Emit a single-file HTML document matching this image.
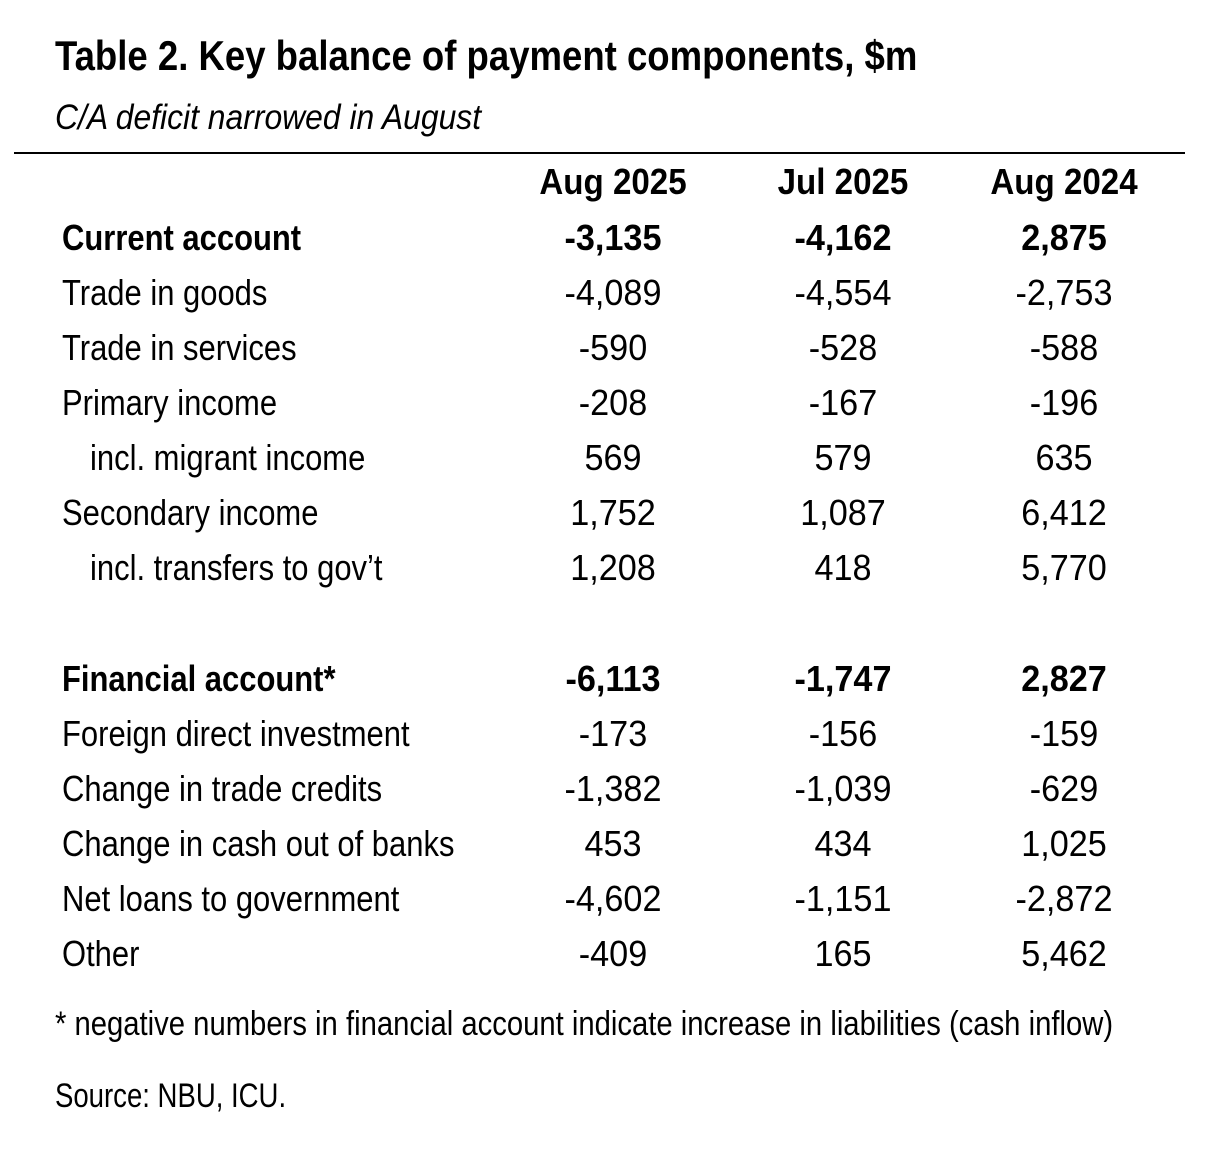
<!DOCTYPE html>
<html><head><meta charset="utf-8"><style>
body{margin:0;width:1213px;height:1153px;background:#fff;position:relative;overflow:hidden;font-family:"Liberation Sans",sans-serif;color:#000}
div{position:absolute;white-space:nowrap;line-height:1}
.l{transform:scaleX(0.86);transform-origin:0 50%}
.t{font-size:42px;font-weight:bold;left:55px;top:35px;transform:scaleX(0.87);transform-origin:0 50%}
.s{font-size:35px;font-style:italic;left:55px;top:100px;transform:scaleX(0.91);transform-origin:0 50%}
.hr{left:14px;top:152px;width:1171px;height:2px;background:#000}
.r{font-size:36px}
.b{font-weight:bold}
.c{width:200px;text-align:center;transform:scaleX(0.95);transform-origin:50% 50%}
.h{transform:scaleX(0.92)}
</style></head><body>
<div class="t">Table 2. Key balance of payment components, $m</div>
<div class="s">C/A deficit narrowed in August</div>
<div class="hr"></div>
<div class="r b c h" style="left:513px;top:164px">Aug 2025</div>
<div class="r b c h" style="left:743px;top:164px">Jul 2025</div>
<div class="r b c h" style="left:964px;top:164px">Aug 2024</div>
<div id="rows"></div>
<script>
const rows=[
["Current account","-3,135","-4,162","2,875",1,0,220],
["Trade in goods","-4,089","-4,554","-2,753",0,0,275],
["Trade in services","-590","-528","-588",0,0,330],
["Primary income","-208","-167","-196",0,0,385],
["incl. migrant income","569","579","635",0,1,440],
["Secondary income","1,752","1,087","6,412",0,0,495],
["incl. transfers to gov\u2019t","1,208","418","5,770",0,1,550],
["Financial account*","-6,113","-1,747","2,827",1,0,661],
["Foreign direct investment","-173","-156","-159",0,0,716],
["Change in trade credits","-1,382","-1,039","-629",0,0,771],
["Change in cash out of banks","453","434","1,025",0,0,826],
["Net loans to government","-4,602","-1,151","-2,872",0,0,881],
["Other","-409","165","5,462",0,0,936]];
let h="";
for(const r of rows){const b=r[4]?" b":"";
h+=`<div class="r l${b}" style="left:${r[5]?90:62}px;top:${r[6]}px">${r[0]}</div>`;
[513,743,964].forEach((x,i)=>h+=`<div class="r c${b}" style="left:${x}px;top:${r[6]}px">${r[i+1]}</div>`);}
document.getElementById("rows").outerHTML=h;
</script>
<div class="l" style="left:55px;top:1007px;font-size:34px">* negative numbers in financial account indicate increase in liabilities (cash inflow)</div>
<div class="l" style="left:55px;top:1079px;font-size:34px;transform:scaleX(0.81)">Source: NBU, ICU.</div>
</body></html>
